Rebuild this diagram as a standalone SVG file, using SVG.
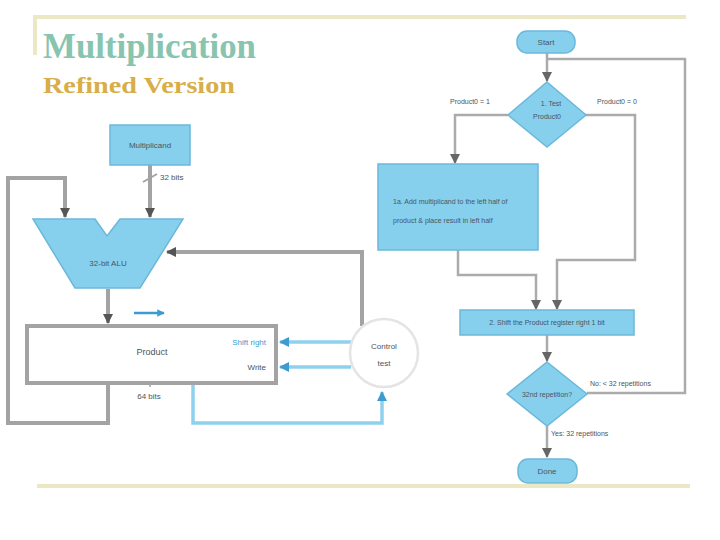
<svg xmlns="http://www.w3.org/2000/svg" width="720" height="540" viewBox="0 0 720 540">
<style>
.rule{stroke:#ECE8C6;stroke-width:4;fill:none}
.gw{stroke:#A3A3A3;stroke-width:4;fill:none}
.gf{stroke:#ABABAB;stroke-width:2.5;fill:none}
.bw{stroke:#8ED1EE;stroke-width:3.5;fill:none}
.node{fill:#86D0EE;stroke:#6BB8DA;stroke-width:1.5}
.t{font-family:"Liberation Sans",Arial,sans-serif;fill:#4a5560}
.s7{font-size:7px}
.s8{font-size:8px}
.s9{font-size:9px}
.blue{fill:#3D9BD0}
</style>
<defs>
<marker id="ag" viewBox="0 0 10 10" refX="9" refY="5" markerWidth="2.6" markerHeight="2.6" orient="auto"><path d="M0,0 L10,5 L0,10 z" fill="#555"/></marker>
<marker id="af" viewBox="0 0 10 10" refX="9" refY="5" markerWidth="4" markerHeight="4" orient="auto"><path d="M0,0 L10,5 L0,10 z" fill="#666"/></marker>
<marker id="ab" viewBox="0 0 10 10" refX="9" refY="5" markerWidth="3" markerHeight="3" orient="auto"><path d="M0,0 L10,5 L0,10 z" fill="#3D9BD0"/></marker>
</defs>
<rect width="720" height="540" fill="#fff"/>
<g id="frame">
<line class="rule" x1="33" y1="17" x2="686" y2="17"/>
<line class="rule" x1="35" y1="17" x2="35" y2="55"/>
<line class="rule" x1="37" y1="486" x2="690" y2="486"/>
</g>
<g id="title">
<text x="43" y="58" font-family="'Liberation Serif','Times New Roman',serif" font-weight="bold" font-size="36" fill="#88C4AF" textLength="213" lengthAdjust="spacingAndGlyphs">Multiplication</text>
<text x="43" y="93" font-family="'Liberation Serif','Times New Roman',serif" font-weight="bold" font-size="23" fill="#D8AE48" textLength="192" lengthAdjust="spacingAndGlyphs">Refined Version</text>
</g>
<g id="connectors">
<!-- hardware -->
<path class="gw" d="M150,165 V217" marker-end="url(#ag)"/>
<line x1="143" y1="182" x2="157" y2="174" stroke="#A3A3A3" stroke-width="2"/>
<path class="gw" d="M108,384 V423 H8 V178 H65 V217" marker-end="url(#ag)"/>
<path class="gw" d="M108,289 V323" marker-end="url(#ag)"/>
<path class="gw" d="M362,326 V252 H167" marker-end="url(#ag)"/>
<line x1="150" y1="326" x2="150" y2="387" stroke="#A3A3A3" stroke-width="1.5"/>
<path class="bw" d="M351,342 H280" marker-end="url(#ab)"/>
<path class="bw" d="M351,367 H280" marker-end="url(#ab)"/>
<path class="bw" d="M193,385 V423 H382 V392" marker-end="url(#ab)"/>
<path d="M134,313 H164" stroke="#3D9BD0" stroke-width="2.5" fill="none" marker-end="url(#ab)"/>
<!-- flowchart -->
<path class="gf" d="M547,53 V81" marker-end="url(#af)"/>
<path class="gf" d="M587,393 H685 V59 H547"/>
<path class="gf" d="M508,115 H455 V163" marker-end="url(#af)"/>
<path class="gf" d="M585,115 H635 V260 H557 V309" marker-end="url(#af)"/>
<path class="gf" d="M458,250 V275 H536 V309" marker-end="url(#af)"/>
<path class="gf" d="M547,335 V361" marker-end="url(#af)"/>
<path class="gf" d="M547,426 V457" marker-end="url(#af)"/>
</g>
<g id="multiplicand">
<rect class="node" x="110" y="125" width="80" height="40"/>
<text class="t s8" x="150" y="148" text-anchor="middle" fill="#3b7fa8">Multiplicand</text>
<text class="t s8" x="160" y="180">32 bits</text>
</g>
<g id="alu">
<path class="node" d="M33,219 H95 L107,236 L120,219 H183 L140,288 H75 Z"/>
<text class="t s8" x="108" y="266" text-anchor="middle">32-bit ALU</text>
</g>
<g id="product">
<rect x="27" y="326" width="249" height="57" fill="#fff" stroke="#A3A3A3" stroke-width="4"/>
<text class="t s9" x="152" y="355" text-anchor="middle">Product</text>
<text class="t s8 blue" x="266" y="345" text-anchor="end">Shift right</text>
<text class="t s8" x="266" y="370" text-anchor="end">Write</text>
<text class="t s8" x="149" y="399" text-anchor="middle">64 bits</text>
</g>
<g id="control">
<circle cx="384" cy="353" r="34" fill="#fff" stroke="#E4E4E4" stroke-width="2.5"/>
<text class="t s8" x="384" y="349" text-anchor="middle">Control</text>
<text class="t s8" x="384" y="366" text-anchor="middle">test</text>
</g>
<g id="start">
<rect class="node" x="517" y="31" width="58" height="22" rx="10"/>
<text class="t s8" x="546" y="45" text-anchor="middle">Start</text>
</g>
<g id="test">
<path class="node" d="M547,82 L586,115 L547,147 L508,115 Z"/>
<text class="t s7" x="551" y="106" text-anchor="middle">1. Test</text>
<text class="t s7" x="547" y="119" text-anchor="middle">Product0</text>
<text class="t s7" x="450" y="104">Product0 = 1</text>
<text class="t s7" x="597" y="104">Product0 = 0</text>
</g>
<g id="add">
<rect class="node" x="378" y="164" width="160" height="86"/>
<text class="t s7" x="393" y="204">1a. Add multiplicand to the left half of</text>
<text class="t s7" x="393" y="223">product &amp; place result in left half</text>
</g>
<g id="shift">
<rect class="node" x="460" y="310" width="174" height="25"/>
<text class="t s7" x="547" y="325" text-anchor="middle">2. Shift the Product register right 1 bit</text>
</g>
<g id="repeat">
<path class="node" d="M547,362 L587,394 L547,426 L507,394 Z"/>
<text class="t s7" x="547" y="397" text-anchor="middle">32nd repetition?</text>
<text class="t s7" x="590" y="386">No: &lt; 32 repetitions</text>
<text class="t s7" x="551" y="436">Yes: 32 repetitions</text>
</g>
<g id="done">
<rect class="node" x="518" y="459" width="59" height="24" rx="10"/>
<text class="t s8" x="547" y="474" text-anchor="middle">Done</text>
</g>
</svg>
